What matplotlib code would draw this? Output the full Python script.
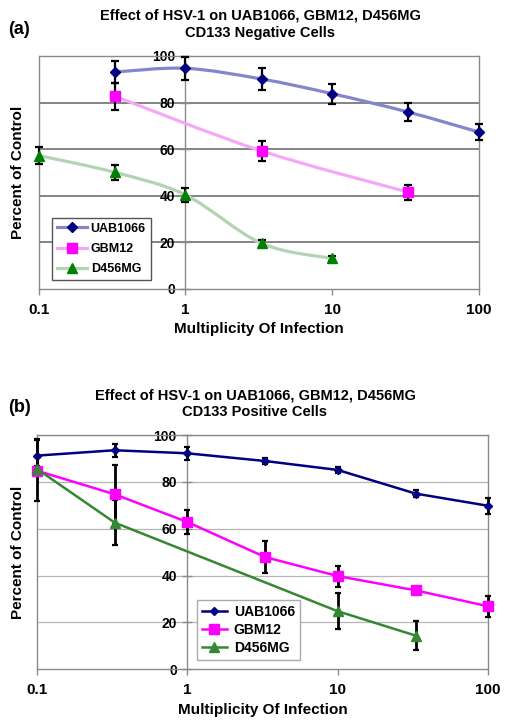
import numpy as np
import matplotlib
matplotlib.use("Agg")
import matplotlib.pyplot as plt
from matplotlib.path import Path
from matplotlib.patches import PathPatch
from matplotlib.lines import Line2D

plt.rcParams['font.family'] = ['Liberation Sans', 'DejaVu Sans']
plt.rcParams['font.weight'] = 'bold'

# ---------------- data ----------------
series_names = ["UAB1066", "GBM12", "D456MG"]
x_ticks = [0.1, 1, 10, 100]
x_tick_labels = ["0.1", "1", "10", "100"]
y_ticks = [0, 20, 40, 60, 80, 100]

# panel (a): CD133 negative
a_uab_x = [0.33, 1, 3.3, 10, 33, 100]
a_uab_y = [93.1, 94.7, 90.1, 83.8, 75.9, 67.3]
a_uab_e = [4.7, 5.0, 4.6, 4.3, 3.8, 3.4]
a_gbm_x = [0.33, 3.3, 33]
a_gbm_y = [82.7, 59.2, 41.5]
a_gbm_e = [5.7, 4.3, 3.2]
a_d456_x = [0.1, 0.33, 1, 3.3, 10]
a_d456_y = [57.2, 50.0, 40.3, 19.5, 13.0]
a_d456_e = [3.7, 3.3, 3.0, 1.4, 1.2]

# panel (b): CD133 positive
b_uab_x = [0.1, 0.33, 1, 3.3, 10, 33, 100]
b_uab_y = [91.2, 93.5, 92.2, 88.9, 85.1, 75.0, 69.8]
b_uab_e = [7.0, 2.8, 2.7, 1.2, 1.3, 1.6, 3.5]
b_gbm_x = [0.1, 0.33, 1, 3.3, 10, 33, 100]
b_gbm_y = [84.8, 74.7, 62.9, 47.9, 39.8, 33.7, 26.9]
b_gbm_e = [13.0, 12.5, 5.3, 6.7, 4.5, 1.0, 4.4]
b_d456_x = [0.1, 0.33, 10, 33]
b_d456_y = [85.6, 62.6, 24.8, 14.4]
b_d456_e = [1.0, 9.5, 7.7, 6.2]


def smooth_path(x, y):
    lx = np.log10(np.asarray(x, float))
    pts = np.column_stack([lx, np.asarray(y, float)])
    n = len(pts)
    verts = [pts[0]]
    codes = [Path.MOVETO]
    for i in range(n - 1):
        p0 = pts[i - 1] if i > 0 else pts[i]
        p1 = pts[i]
        p2 = pts[i + 1]
        p3 = pts[i + 2] if i + 2 < n else pts[i + 1]
        c1 = p1 + (p2 - p0) / 6.0
        c2 = p2 - (p3 - p1) / 6.0
        verts += [c1, c2, p2]
        codes += [Path.CURVE4] * 3
    verts = np.array(verts)
    verts[:, 0] = 10 ** verts[:, 0]
    return Path(verts, codes)


def setup_axes(ax, grid_color, frame_color, grid_lw, ytick_fs, ylab_x):
    ax.set_xscale('log')
    ax.set_xlim(0.1, 100)
    ax.set_ylim(0, 100)
    ax.minorticks_off()
    ax.set_xticks(x_ticks)
    ax.set_xticklabels(x_tick_labels, fontsize=11, fontweight='bold')
    ax.set_yticks(y_ticks)
    ax.set_yticklabels([str(v) for v in y_ticks], fontsize=ytick_fs,
                       fontweight='bold')
    for v in y_ticks[1:]:
        ax.axhline(v, color=grid_color, lw=grid_lw, zorder=1)
    ax.spines['left'].set_position(('data', 1))
    ax.spines['left'].set_color(frame_color)
    ax.spines['left'].set_linewidth(1.0)
    ax.spines['left'].set_zorder(1)
    for s in ['right', 'top', 'bottom']:
        ax.spines[s].set_color(frame_color)
        ax.spines[s].set_linewidth(1.0)
    ax.axvline(0.1, color=frame_color, lw=1.0, clip_on=False, zorder=1)
    ax.tick_params(axis='y', direction='inout', length=7, width=1,
                   color=frame_color, pad=4)
    ax.tick_params(axis='x', direction='out', length=4, width=1,
                   color=frame_color, pad=6)
    ax.set_ylabel("Percent of Control", fontsize=11, fontweight='bold',
                  labelpad=0)
    ax.yaxis.set_label_coords(ylab_x, 0.5)
    ax.set_xlabel("Multiplicity Of Infection", fontsize=11, fontweight='bold',
                  labelpad=4)
    for t in ax.get_yticklabels():
        t.set_zorder(5)


fig = plt.figure(figsize=(5.10, 7.26), dpi=100)

# ---------------- panel (a) ----------------
ax1 = fig.add_axes([0.0759, 0.6023, 0.939 - 0.0759, 0.9229 - 0.6023])
setup_axes(ax1, '#7a7a7a', '#8a8a8a', 1.3, 10, -0.032)

a_specs = [
    (a_uab_x, a_uab_y, a_uab_e, '#8585cc', '#000080', 'D', 5),
    (a_gbm_x, a_gbm_y, a_gbm_e, '#f5a8f5', '#ff00ff', 's', 7),
    (a_d456_x, a_d456_y, a_d456_e, '#b3d3b3', '#008000', '^', 6.5),
]
handles = []
for (x, y, e, lc, mc, mk, ms), name in zip(a_specs, series_names):
    ax1.add_patch(PathPatch(smooth_path(x, y), facecolor='none',
                            edgecolor=lc, lw=2.3, zorder=2))
    ax1.errorbar(x, y, yerr=e, fmt='none', ecolor='black', elinewidth=1.6,
                 capsize=3, capthick=1.6, zorder=3, clip_on=False)
    ax1.plot(x, y, linestyle='none', marker=mk, color=mc, ms=ms,
             markeredgecolor=mc, zorder=4, clip_on=False)
    handles.append(Line2D([], [], color=lc, lw=2.3, marker=mk, ms=ms,
                          markerfacecolor=mc, markeredgecolor=mc, label=name))
leg1 = ax1.legend(handles=handles, loc='lower left',
                  bbox_to_anchor=(0.03, 0.037), borderaxespad=0,
                  fontsize=9, frameon=True,
                  fancybox=False, edgecolor='#555555', framealpha=1,
                  handlelength=2.4, handletextpad=0.3, borderpad=0.4,
                  labelspacing=0.65)
leg1.get_frame().set_linewidth(1.0)
leg1.set_zorder(6)

fig.text(0.51, 1 - 15 / 726, "Effect of HSV-1 on UAB1066, GBM12, D456MG",
         ha='center', va='center', fontsize=10.5, fontweight='bold')
fig.text(0.51, 1 - 33 / 726, "CD133 Negative Cells",
         ha='center', va='center', fontsize=10.5, fontweight='bold')
fig.text(0.016, 1 - 29 / 726, "(a)", ha='left', va='center', fontsize=13,
         fontweight='bold')

# ---------------- panel (b) ----------------
ax2 = fig.add_axes([0.072, 0.0781, 0.957 - 0.072, 0.4008 - 0.0781])
setup_axes(ax2, '#b5b5b5', '#8a8a8a', 0.9, 11.5, -0.025)

b_specs = [
    (b_uab_x, b_uab_y, b_uab_e, '#000080', 'D', 4.5),
    (b_gbm_x, b_gbm_y, b_gbm_e, '#ff00ff', 's', 7),
    (b_d456_x, b_d456_y, b_d456_e, '#338833', '^', 6.5),
]
handles = []
for (x, y, e, c, mk, ms), name in zip(b_specs, series_names):
    ax2.plot(x, y, color=c, lw=1.8, zorder=2, clip_on=False)
    ax2.errorbar(x, y, yerr=e, fmt='none', ecolor='black', elinewidth=2.0,
                 capsize=2.5, capthick=1.6, zorder=3, clip_on=False)
    ax2.plot(x, y, linestyle='none', marker=mk, color=c, ms=ms,
             markeredgecolor=c, zorder=4, clip_on=False)
    handles.append(Line2D([], [], color=c, lw=1.8, marker=mk, ms=ms,
                          markerfacecolor=c, markeredgecolor=c, label=name))
leg2 = ax2.legend(handles=handles, loc='lower left',
                  bbox_to_anchor=(0.355, 0.04), borderaxespad=0,
                  fontsize=10, frameon=True,
                  fancybox=False, edgecolor='#aaaaaa', framealpha=1,
                  handlelength=1.8, handletextpad=0.5, borderpad=0.35,
                  labelspacing=0.3)
leg2.get_frame().set_linewidth(1.0)
leg2.set_zorder(6)

fig.text(0.5, 1 - 395 / 726, "Effect of HSV-1 on UAB1066, GBM12, D456MG",
         ha='center', va='center', fontsize=10.5, fontweight='bold')
fig.text(0.5, 1 - 412 / 726, "CD133 Positive Cells",
         ha='center', va='center', fontsize=10.5, fontweight='bold')
fig.text(0.016, 1 - 408 / 726, "(b)", ha='left', va='center', fontsize=13,
         fontweight='bold')

fig.savefig("out.png", dpi=100)
